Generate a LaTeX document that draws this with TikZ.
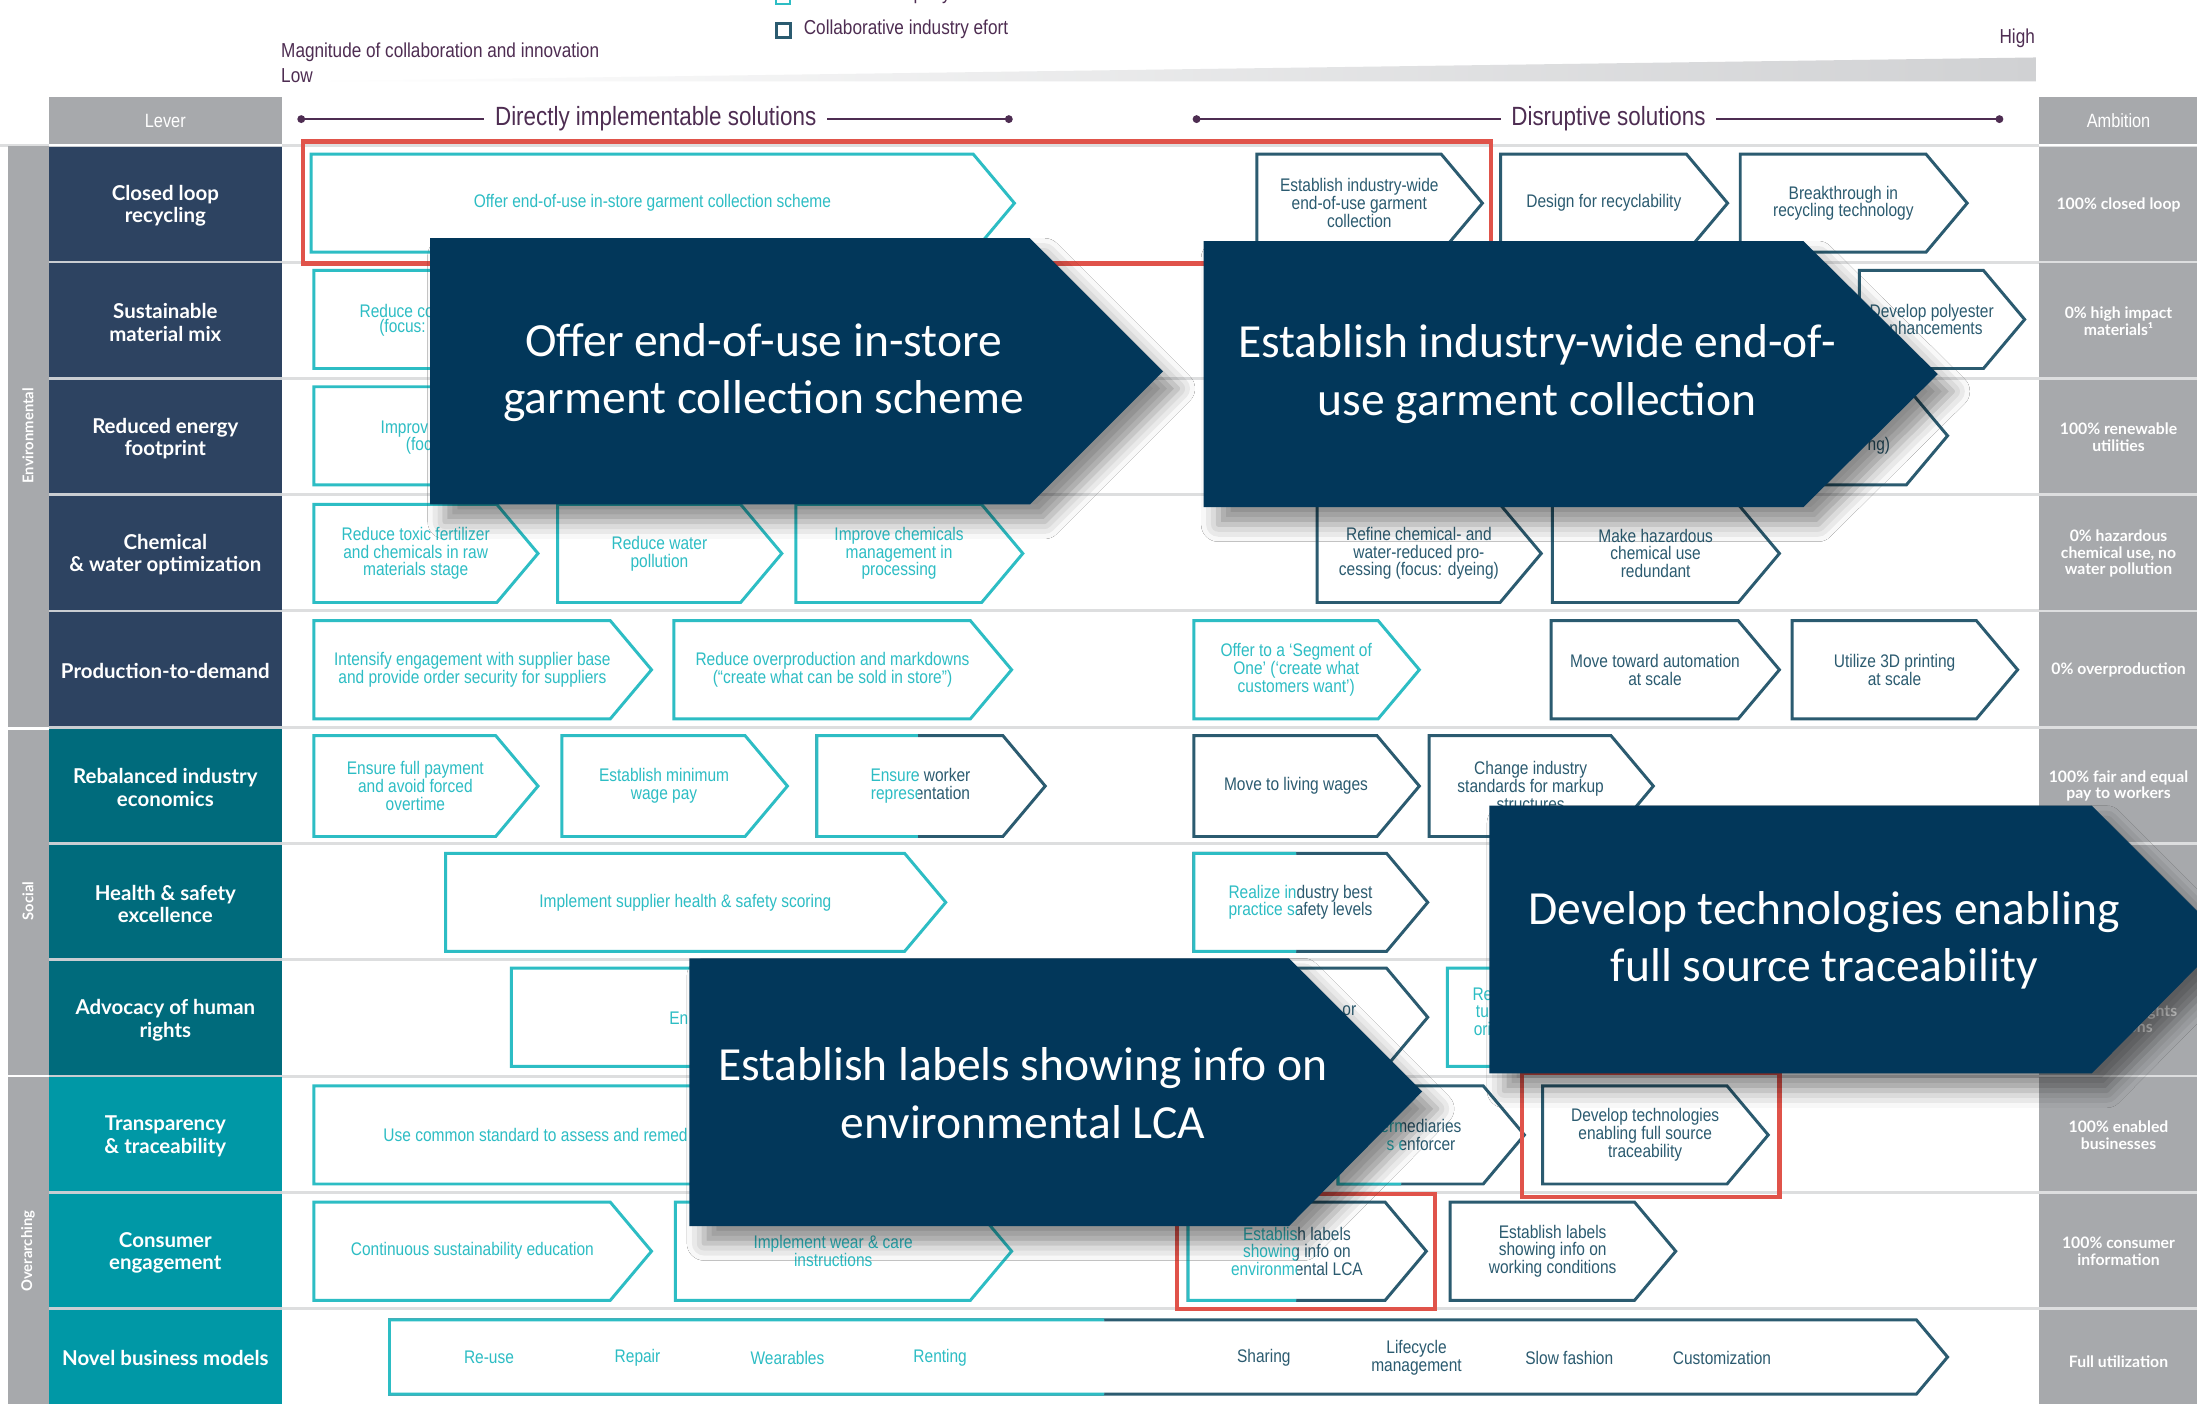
\documentclass[tikz,border=0pt]{standalone}
\usepackage{fontspec}
\setmainfont{Liberation Sans}
\newfontfamily\cond[FakeStretch=0.85]{Liberation Sans}
\newfontfamily\levf{Lato}
\newfontfamily\callf{Carlito}
\usetikzlibrary{shadows.blur}

\definecolor{levnavy}{HTML}{2D4361}
\definecolor{levsoc}{HTML}{006B7C}
\definecolor{levover}{HTML}{0098A6}
\definecolor{bargray}{HTML}{A7A9AC}
\definecolor{rowline}{HTML}{DDDEDF}
\definecolor{levsep}{HTML}{C9CDD2}
\definecolor{tl}{HTML}{2DBDC4}
\definecolor{dk}{HTML}{2B5B70}
\definecolor{callnavy}{HTML}{02375A}
\definecolor{hlred}{HTML}{E0534A}
\definecolor{hdrpurple}{HTML}{4E2D52}
\definecolor{wedge}{HTML}{D0D1D3}

\tikzset{
  boxtext/.style={font=\cond\fontsize{3.7}{3.6}\selectfont, align=center, inner sep=0pt},
  chevline/.style={line width=0.6pt, fill=white, line join=miter},
  levtext/.style={font=\levf\bfseries\fontsize{4.15}{4.55}\selectfont, text=white, align=center, inner sep=0pt},
  ambtext/.style={font=\levf\bfseries\fontsize{3.2}{3.4}\selectfont, text=white, align=center, inner sep=0pt},
  grptext/.style={font=\levf\bfseries\fontsize{3}{3.4}\selectfont, text=white, rotate=90, inner sep=0pt},
  hdrtext/.style={font=\cond\fontsize{4.1}{4.4}\selectfont, text=hdrpurple, inner sep=0pt},
  captext/.style={font=\cond\fontsize{3.9}{4.2}\selectfont, text=white, inner sep=0pt},
  soltext/.style={font=\cond\fontsize{5.35}{5.8}\selectfont, text=hdrpurple, fill=white, inner xsep=2.2pt, inner ysep=0.5pt},
  solline/.style={draw=hdrpurple, line width=0.45pt},
  callout/.style={fill=callnavy, blur shadow={shadow xshift=3pt, shadow yshift=-3.5pt, shadow blur radius=3.5pt, shadow opacity=45}},
  calltext/.style={font=\callf\fontsize{9.65}{11.7}\selectfont, text=white, align=center, inner sep=0pt},
  redbox/.style={draw=hlred, line width=0.85pt},
}

% chevron: name, x1, y1, x2, y2, colour, text
\newcommand\chev[7]{%
  \pgfmathsetmacro\chd{0.42*(#5-#3)}%
  \pgfmathsetmacro\chm{(#3+#5)/2}%
  \pgfmathsetmacro\chc{(#2+#4)/2-\chd/4}%
  \draw[chevline, draw=#6] (#2,#3) -- ({#4-\chd},#3) -- (#4,\chm) -- ({#4-\chd},#5) -- (#2,#5) -- cycle;
  \node[boxtext, text=#6] (#1) at (\chc,\chm) {#7};
}
% chevron whose left part is teal and right part dark: name, x1, y1, x2, y2, split, text
\newcommand\chevmix[7]{%
  \chev{#1}{#2}{#3}{#4}{#5}{dk}{#7}
  \begin{scope}
    \clip (#2-5,#3-5) rectangle (#6,#5+5);
    \chev{#1-l}{#2}{#3}{#4}{#5}{tl}{#7}
  \end{scope}
}
% lever cell: name, row, colour, text
\newcommand\levbox[4]{%
  \pgfmathsetmacro\lt{104+83*#2}%
  \fill[#3] (35,\lt+1) rectangle (201,\lt+82);
  \node[levtext] (#1) at (118,\lt+43) {#4};
}
% ambition cell: name, row, text
\newcommand\ambcell[3]{%
  \pgfmathsetmacro\lt{104+83*#2}%
  \fill[bargray] (1455,\lt+1) rectangle (1568,\lt+82);
  \node[ambtext] (#1) at (1512,\lt+42) {#3};
}

\begin{document}
\begin{tikzpicture}[x=0.01cm, y=-0.01cm]
\clip (0,0) rectangle (1568,1002);
\fill[white] (0,0) rectangle (1568,1002);

% ---------- legend and scale ----------
\draw[tl, line width=0.5pt, fill=white] (554,-7) rectangle (564,3);
\node[hdrtext, anchor=west] (legind) at (573,-4) {Individual company effort};
\draw[dk, line width=0.6pt, fill=white] (554,17) rectangle (564,27);
\node[hdrtext, anchor=west] (legcol) at (573,21) {Collaborative industry efort};
\node[hdrtext, anchor=west] (mag) at (200,37) {Magnitude of collaboration and innovation};
\node[hdrtext, anchor=west] (low) at (200,54) {Low};
\node[hdrtext, anchor=east] (high) at (1453,27) {High};
\shade[left color=white, middle color=wedge, right color=wedge] (222,58) -- (1453,41) -- (1453,58) -- cycle;

% ---------- header row ----------
\fill[bargray] (35,69) rectangle (201,103);
\node[captext] (lever) at (118,86) {Lever};
\fill[bargray] (1455,69) rectangle (1568,103);
\node[captext] (ambition) at (1512,86) {Ambition};

\coordinate (ds0) at (215,85);
\coordinate (ds1) at (720,85);
\draw[solline] (ds0) -- (ds1);
\fill[hdrpurple] (ds0) circle (0.8pt);
\fill[hdrpurple] (ds1) circle (0.8pt);
\node[soltext] (direct) at (468,85) {Directly implementable solutions};

\coordinate (dr0) at (854,85);
\coordinate (dr1) at (1427,85);
\draw[solline] (dr0) -- (dr1);
\fill[hdrpurple] (dr0) circle (0.8pt);
\fill[hdrpurple] (dr1) circle (0.8pt);
\node[soltext] (disrupt) at (1148,85) {Disruptive solutions};

% ---------- grid ----------
\foreach \i in {0,...,10} {
  \draw[rowline, line width=0.6pt] (201,104+83*\i) -- (1455,104+83*\i);
}
\draw[rowline, line width=0.6pt] (0,104) -- (35,104);

\fill[bargray] (6,104) rectangle (35,519);
\fill[bargray] (6,521) rectangle (35,767);
\fill[bargray] (6,769) rectangle (35,1002);
\node[grptext] (genv) at (20,311) {Environmental};
\node[grptext] (gsoc) at (20,643) {Social};
\node[grptext] (gover) at (20,893) {Overarching};

\fill[levsep] (35,104) rectangle (201,1002);
\levbox{l0}{0}{levnavy}{Closed loop\\recycling}
\levbox{l1}{1}{levnavy}{Sustainable\\material mix}
\levbox{l2}{2}{levnavy}{Reduced energy\\footprint}
\levbox{l3}{3}{levnavy}{Chemical\\\& water optimization}
\levbox{l4}{4}{levnavy}{Production-to-demand}
\levbox{l5}{5}{levsoc}{Rebalanced industry\\economics}
\levbox{l6}{6}{levsoc}{Health \& safety\\excellence}
\levbox{l7}{7}{levsoc}{Advocacy of human\\rights}
\levbox{l8}{8}{levover}{Transparency\\\& traceability}
\levbox{l9}{9}{levover}{Consumer\\engagement}
\fill[levover] (35,935) rectangle (201,1002);
\node[levtext] (l10) at (118,969) {Novel business models};

\fill[rowline] (1455,104) rectangle (1568,1002);
\ambcell{a0}{0}{100\% closed loop}
\ambcell{a1}{1}{0\% high impact\\materials¹}
\ambcell{a2}{2}{100\% renewable\\utilities}
\ambcell{a3}{3}{0\% hazardous\\chemical use, no\\water pollution}
\ambcell{a4}{4}{0\% overproduction}
\ambcell{a5}{5}{100\% fair and equal\\pay to workers}
\ambcell{a6}{6}{}
\ambcell{a7}{7}{0\% human rights\\violations}
\ambcell{a8}{8}{100\% enabled\\businesses}
\ambcell{a9}{9}{100\% consumer\\information}
\fill[bargray] (1455,935) rectangle (1568,1002);
\node[ambtext] (a10) at (1512,972) {Full utilization};

% ---------- solution chevrons ----------
% closed loop recycling
\chev{r0a}{222}{110}{724}{180}{tl}{Offer end-of-use in-store garment collection scheme}
\chev{r0b}{897}{110}{1058}{180}{dk}{Establish industry-wide\\end-of-use garment\\collection}
\chev{r0c}{1071}{110}{1233}{180}{dk}{Design for recyclability}
\chev{r0d}{1242}{110}{1404}{180}{dk}{Breakthrough in\\recycling technology}
% sustainable material mix
\chev{r1a}{224}{193}{520}{263}{tl}{}
\node[boxtext, text=tl, anchor=west] (r1at) at (256,222) {Reduce co};
\node[boxtext, text=tl, anchor=west] (r1au) at (270,234) {(focus:};
\chev{r1b}{1327}{193}{1445}{263}{dk}{Develop polyester\\enhancements}
% reduced energy footprint
\chev{r2a}{224}{276}{520}{346}{tl}{}
\node[boxtext, text=tl, anchor=west] (r2at) at (271,306) {Improv};
\node[boxtext, text=tl, anchor=west] (r2au) at (289,318) {(foc};
\chev{r2b}{1230}{276}{1390}{346}{dk}{}
\node[boxtext, text=dk] (r2bt) at (1341,318) {ng)};
% chemical & water optimization
\chev{r3a}{224}{360}{384}{430}{tl}{Reduce toxic fertilizer\\and chemicals in raw\\materials stage}
\chev{r3b}{398}{360}{558}{430}{tl}{Reduce water\\pollution}
\chev{r3c}{568}{360}{730}{430}{tl}{Improve chemicals\\management in\\processing}
\chev{r3d}{940}{360}{1100}{430}{dk}{Refine chemical- and\\water-reduced pro-\\cessing (focus: dyeing)}
\chev{r3e}{1108}{360}{1270}{430}{dk}{Make hazardous\\chemical use\\redundant}
% production-to-demand
\chev{r4a}{224}{443}{465}{513}{tl}{Intensify engagement with supplier base\\and provide order security for suppliers}
\chev{r4b}{481}{443}{722}{513}{tl}{Reduce overproduction and markdowns\\(“create what can be sold in store”)}
\chev{r4c}{852}{443}{1013}{513}{tl}{Offer to a ‘Segment of\\One’ (‘create what\\customers want’)}
\chev{r4d}{1107}{443}{1270}{513}{dk}{Move toward automation\\at scale}
\chev{r4e}{1279}{443}{1440}{513}{dk}{Utilize 3D printing\\at scale}
% rebalanced industry economics
\chev{r5a}{224}{525}{384}{597}{tl}{Ensure full payment\\and avoid forced\\overtime}
\chev{r5b}{401}{525}{562}{597}{tl}{Establish minimum\\wage pay}
\chevmix{r5c}{583}{525}{746}{597}{655}{Ensure worker\\representation}
\chev{r5d}{852}{525}{1013}{597}{dk}{Move to living wages}
\chev{r5e}{1020}{525}{1180}{597}{dk}{Change industry\\standards for markup\\structures}
% health & safety excellence
\chev{r6a}{318}{609}{675}{679}{tl}{Implement supplier health \& safety scoring}
\chevmix{r6b}{852}{609}{1019}{679}{925}{Realize industry best\\practice safety levels}
% advocacy of human rights
\chev{r7a}{365}{691}{700}{761}{tl}{}
\node[boxtext, text=tl, anchor=west] (r7at) at (477,727) {En};
\chev{r7b}{860}{691}{1019}{761}{dk}{}
\node[boxtext, text=dk] (r7bt) at (963,721) {or};
\chev{r7c}{1033}{691}{1200}{761}{tl}{}
\node[boxtext, text=tl] (r7ct) at (1058,722) {Re\\tu\\ori};
% transparency & traceability
\chev{r8a}{224}{775}{700}{845}{tl}{}
\node[boxtext, text=tl, anchor=west] (r8at) at (273,810) {Use common standard to assess and remed};
\chevmix{r8b}{955}{775}{1088}{845}{1000}{ermediaries\\s enforcer}
\chev{r8c}{1101}{775}{1262}{845}{dk}{Develop technologies\\enabling full source\\traceability}
% consumer engagement
\chev{r9a}{224}{858}{465}{928}{tl}{Continuous sustainability education}
\chev{r9b}{482}{858}{722}{928}{tl}{Implement wear \& care\\instructions}
\chevmix{r9c}{848}{858}{1018}{928}{925}{Establish labels\\showing info on\\environmental LCA}
\chev{r9d}{1035}{858}{1196}{928}{dk}{Establish labels\\showing info on\\working conditions}
% novel business models
\chevmix{r10}{278}{942}{1390}{995}{788}{}
\node[boxtext, text=tl] (nb1) at (349,969) {Re-use};
\node[boxtext, text=tl] (nb2) at (455,969) {Repair};
\node[boxtext, text=tl] (nb3) at (562,969) {Wearables};
\node[boxtext, text=tl] (nb4) at (671,969) {Renting};
\node[boxtext, text=dk] (nb5) at (902,969) {Sharing};
\node[boxtext, text=dk] (nb6) at (1011,969) {Lifecycle\\management};
\node[boxtext, text=dk] (nb7) at (1120,969) {Slow fashion};
\node[boxtext, text=dk] (nb8) at (1229,969) {Customization};

% ---------- highlight frames ----------
\draw[redbox] (216,101) rectangle (1064,188);
\draw[redbox] (1086,766) rectangle (1270,854);
\draw[redbox] (840,852) rectangle (1024,934);

% ---------- callouts ----------
\fill[callout] (307,170) -- (735,170) -- (830,265) -- (735,360) -- (307,360) -- cycle;
\node[calltext] (c1) at (545,266) {Offer end-of-use in-store\\garment collection scheme};
\fill[callout] (859,172) -- (1287,172) -- (1383,267) -- (1287,362) -- (859,362) -- cycle;
\node[calltext] (c2) at (1097,267) {Establish industry-wide end-of-\\use garment collection};
\fill[callout] (1063,575) -- (1493,575) -- (1588,670) -- (1493,766) -- (1063,766) -- cycle;
\node[calltext] (c3) at (1302,671) {Develop technologies enabling\\full source traceability};
\fill[callout] (492,684) -- (920,684) -- (1015,779) -- (920,875) -- (492,875) -- cycle;
\node[calltext] (c4) at (730,780) {Establish labels showing info on\\environmental LCA};
\end{tikzpicture}
\end{document}
